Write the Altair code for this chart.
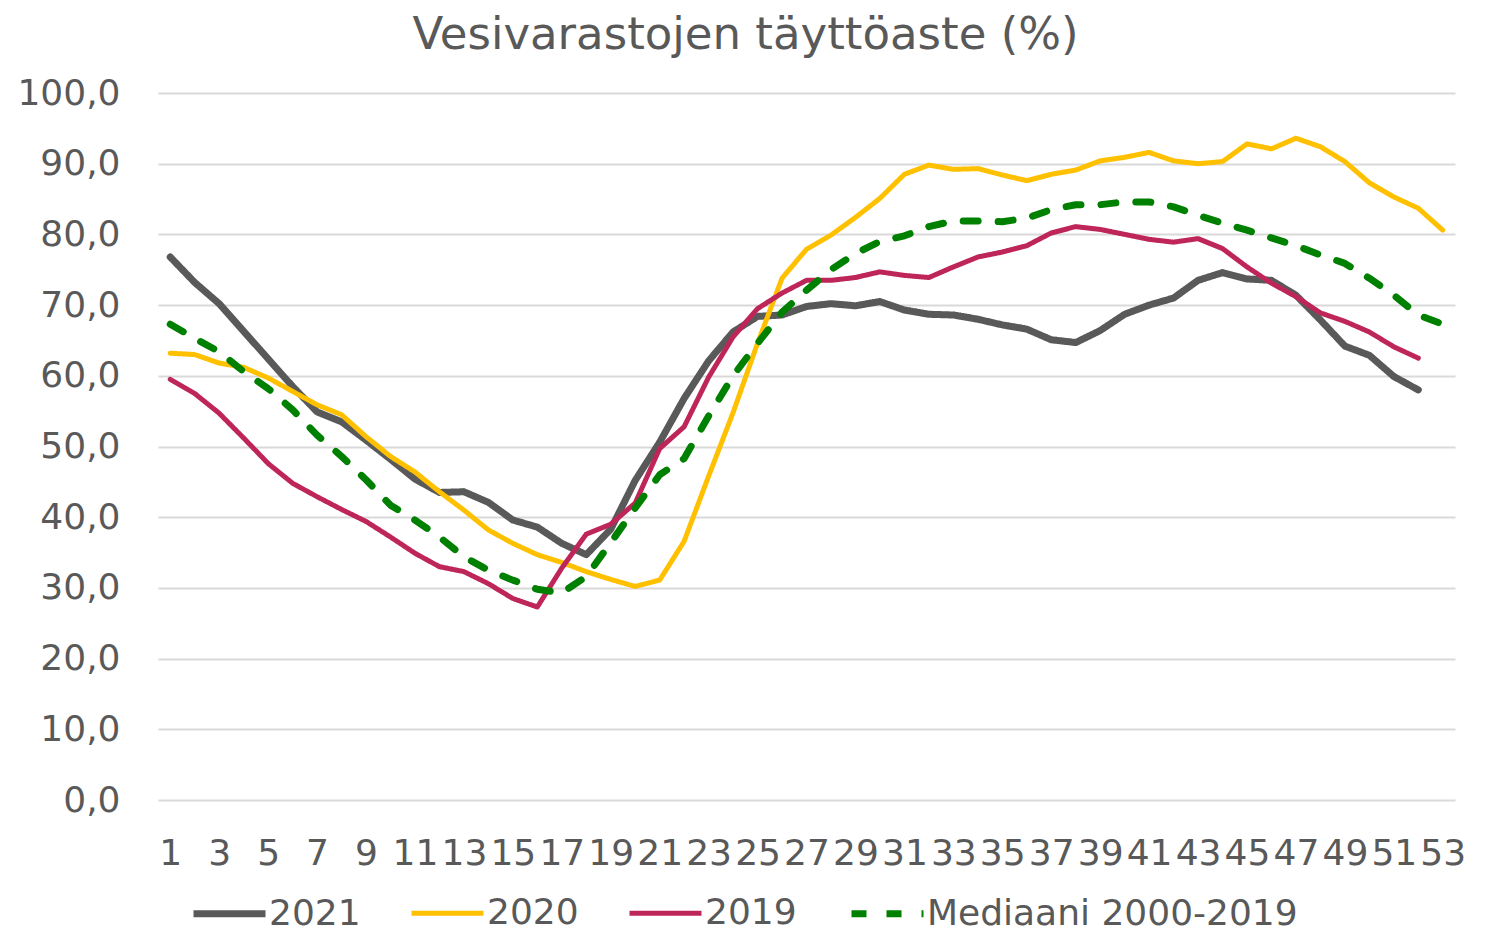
import altair as alt
import pandas as pd

weeks = list(range(1, 54))
odd_weeks = list(range(1, 54, 2))

series_names = ["2021", "2020", "2019", "Mediaani 2000-2019"]
series_colors = ["#595959", "#FFC000", "#BE2659", "#008000"]
series_widths = [7, 5, 5, 7]
series_dashes = [[1, 0], [1, 0], [1, 0], [15, 20]]

y2021 = [76.8, 73.2, 70.2, 66.3, 62.4, 58.5, 54.9, 53.5, 50.9, 48.2,
         45.4, 43.5, 43.6, 42.1, 39.6, 38.6, 36.3, 34.7, 38.3, 45.2,
         50.6, 56.8, 62.1, 66.2, 68.4, 68.6, 69.8, 70.2, 69.9, 70.5,
         69.3, 68.7, 68.6, 68.0, 67.2, 66.6, 65.1, 64.7, 66.4, 68.7,
         70.0, 71.0, 73.5, 74.6, 73.7, 73.5, 71.4, 67.9, 64.2, 62.9,
         59.9, 58.0]

y2020 = [63.2, 63.0, 61.8, 61.2, 59.7, 57.8, 55.9, 54.5, 51.4, 48.6,
         46.4, 43.6, 41.0, 38.2, 36.3, 34.7, 33.6, 32.3, 31.2, 30.2,
         31.1, 36.6, 45.8, 54.8, 64.6, 73.8, 77.9, 79.9, 82.4, 85.1,
         88.5, 89.8, 89.2, 89.3, 88.4, 87.6, 88.5, 89.1, 90.4, 90.9,
         91.6, 90.4, 90.0, 90.3, 92.8, 92.1, 93.6, 92.4, 90.3, 87.3,
         85.3, 83.7, 80.6]

y2019 = [59.5, 57.5, 54.7, 51.2, 47.6, 44.8, 42.9, 41.1, 39.4, 37.2,
         34.9, 33.0, 32.3, 30.6, 28.5, 27.3, 32.8, 37.6, 39.0, 42.0,
         49.7, 52.8, 59.8, 65.5, 69.5, 71.7, 73.5, 73.5, 73.9, 74.7,
         74.2, 73.9, 75.4, 76.8, 77.5, 78.4, 80.2, 81.1, 80.7, 80.0,
         79.3, 78.9, 79.4, 78.0, 75.4, 73.1, 71.2, 68.9, 67.7, 66.2,
         64.1, 62.5]

median = [67.3, 65.3, 63.4, 60.6, 58.2, 55.2, 51.6, 48.6, 45.3, 41.7,
          39.6, 37.2, 34.4, 32.5, 31.1, 29.8, 29.3, 31.6, 36.4, 41.3,
          46.0, 48.3, 54.3, 60.0, 64.6, 69.0, 72.1, 75.0, 77.3, 79.0,
          79.8, 81.1, 81.9, 81.9, 81.8, 82.3, 83.5, 84.2, 84.2, 84.6,
          84.6, 83.9, 82.7, 81.6, 80.6, 79.5, 78.4, 77.1, 75.9, 73.8,
          71.4, 68.6, 67.3]

rows = []
for name, vals in zip(series_names, [y2021, y2020, y2019, median]):
    for w, v in zip(weeks, vals):
        rows.append({"week": w, "value": v, "series": name})
df = pd.DataFrame(rows)

FONT = "DejaVu Sans"
TXT = "#595959"

legend = alt.Legend(
    title=None, orient="none", legendX=32, legendY=781,
    direction="horizontal", columns=4, symbolType="stroke",
    symbolSize=5184, labelFontSize=36, labelFont=FONT, labelColor=TXT,
    labelOffset=0, columnPadding=40, labelLimit=600,
)

chart = alt.Chart(df).mark_line(strokeCap="round", strokeJoin="round").encode(
    x=alt.X("week:O", scale=alt.Scale(type="point", padding=0.5),
            axis=alt.Axis(values=odd_weeks, labelAngle=0, labelFontSize=36,
                          labelFont=FONT, labelColor=TXT, ticks=False,
                          domain=False, grid=False, labelPadding=36,
                          labelOverlap=False, title=None)),
    y=alt.Y("value:Q", scale=alt.Scale(domain=[0, 100], nice=False),
            axis=alt.Axis(values=list(range(0, 101, 10)),
                          labelExpr="replace(format(datum.value, '.1f'), '.', ',')",
                          gridColor="#D9D9D9", gridWidth=2, domain=False,
                          ticks=False, labelPadding=38, labelFontSize=36,
                          labelFont=FONT, labelColor=TXT, title=None)),
    color=alt.Color("series:N",
                    scale=alt.Scale(type="ordinal", domain=series_names, range=series_colors),
                    legend=legend),
    strokeWidth=alt.StrokeWidth("series:N",
                                scale=alt.Scale(type="ordinal", domain=series_names,
                                                range=series_widths),
                                legend=legend),
    strokeDash=alt.StrokeDash("series:N",
                              scale=alt.Scale(type="ordinal", domain=series_names,
                                              range=series_dashes),
                              legend=legend),
).properties(
    width=1297, height=707,
    autosize="none",
    background="white",
    padding={"left": 150, "top": 85, "right": 33, "bottom": 134},
    title=alt.Title("Vesivarastojen täyttöaste (%)", fontSize=45, font=FONT,
                    color=TXT, fontWeight="normal", anchor="middle",
                    frame="group", dx=-61, offset=17),
).configure_view(stroke=None)

chart.save("out.html", embed_options={"renderer": "svg", "actions": False})
